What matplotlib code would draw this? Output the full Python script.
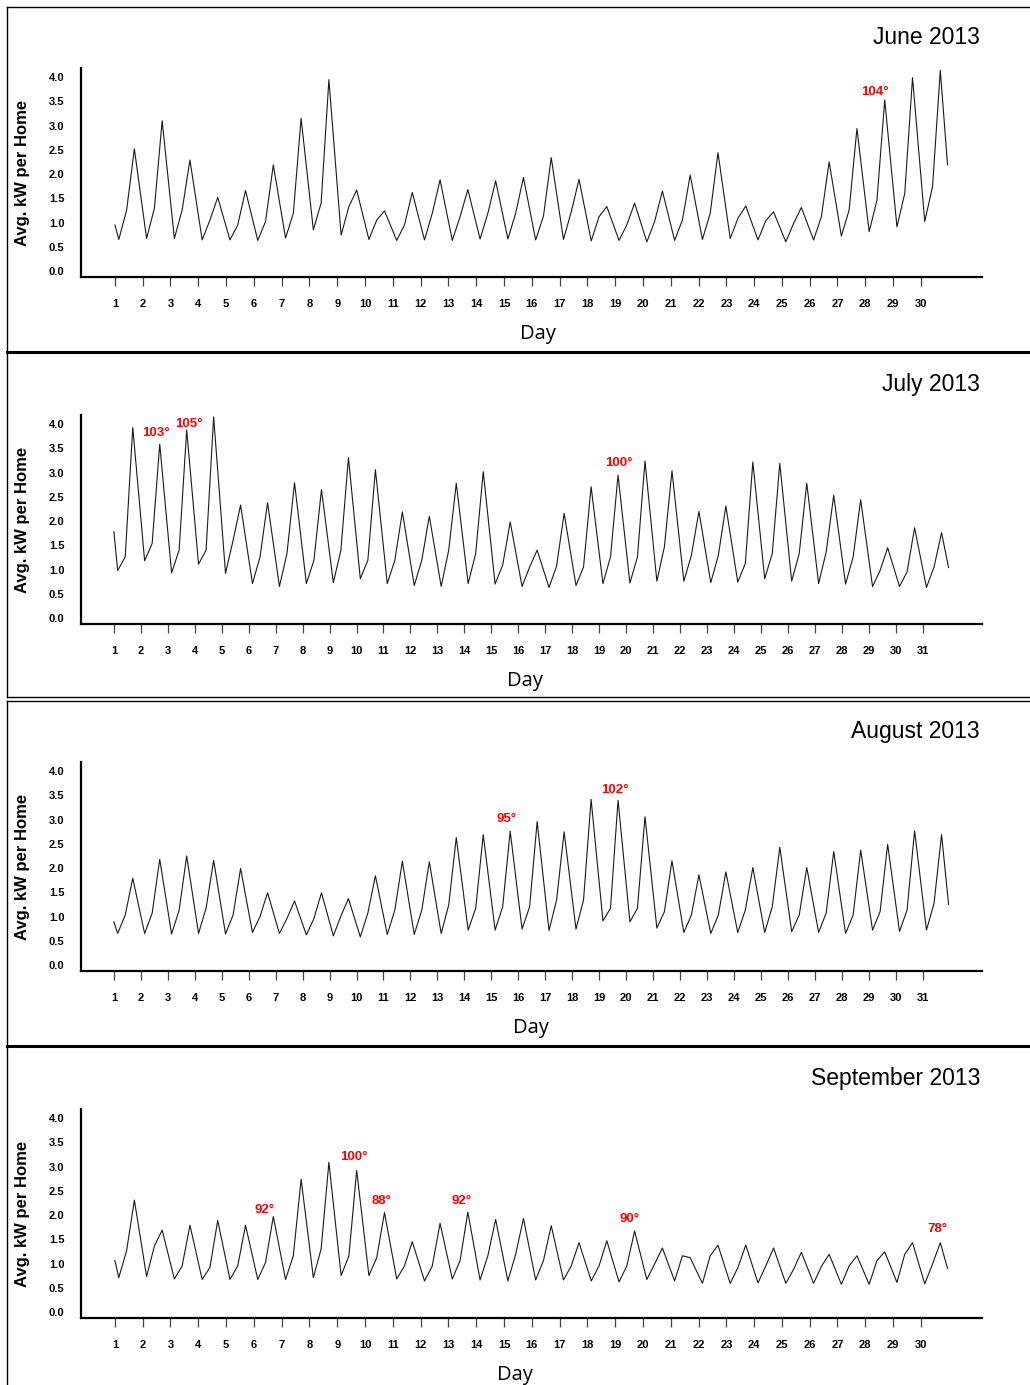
import matplotlib
matplotlib.use("Agg")
import matplotlib.pyplot as plt
from matplotlib.lines import Line2D
import numpy as np

# ---------------- data ----------------
months = ["June 2013", "July 2013", "August 2013", "September 2013"]
n_days = [30, 31, 31, 30]

june_trough = [0.65, 0.67, 0.67, 0.64, 0.64, 0.63, 0.68, 0.85, 0.74, 0.65,
               0.63, 0.64, 0.63, 0.66, 0.66, 0.64, 0.65, 0.62, 0.63, 0.60,
               0.63, 0.65, 0.67, 0.64, 0.60, 0.64, 0.72, 0.81, 0.91, 1.02]
june_shoulder = [1.25, 1.29, 1.26, 1.05, 0.95, 1.02, 1.19, 1.40, 1.33, 1.05,
                 0.95, 1.19, 1.12, 1.19, 1.19, 1.13, 1.22, 1.12, 0.95, 1.02,
                 1.05, 1.19, 1.09, 1.04, 0.98, 1.12, 1.26, 1.46, 1.60, 1.74]
june_peak = [2.52, 3.10, 2.29, 1.52, 1.66, 2.19, 3.15, 3.95, 1.67, 1.24,
             1.62, 1.88, 1.68, 1.86, 1.93, 2.34, 1.89, 1.33, 1.40, 1.65,
             1.98, 2.44, 1.34, 1.22, 1.31, 2.25, 2.94, 3.53, 3.99, 4.14]
june_start, june_end = 0.95, 2.19

july_trough = [0.98, 1.18, 0.93, 1.11, 0.92, 0.71, 0.65, 0.71, 0.73, 0.81,
               0.71, 0.67, 0.65, 0.71, 0.70, 0.65, 0.63, 0.67, 0.71, 0.72,
               0.76, 0.76, 0.73, 0.74, 0.81, 0.76, 0.71, 0.70, 0.65, 0.65, 0.63]
july_shoulder = [1.26, 1.54, 1.40, 1.40, 1.60, 1.26, 1.33, 1.19, 1.40, 1.19,
                 1.19, 1.19, 1.40, 1.33, 1.09, 1.05, 1.07, 1.05, 1.26, 1.26,
                 1.47, 1.29, 1.29, 1.12, 1.33, 1.33, 1.36, 1.26, 0.98, 0.95, 1.05]
july_peak = [3.93, 3.59, 3.88, 4.15, 2.33, 2.38, 2.79, 2.65, 3.31, 3.06,
             2.19, 2.10, 2.78, 3.02, 1.98, 1.40, 2.16, 2.71, 2.95, 3.24,
             3.04, 2.20, 2.31, 3.22, 3.19, 2.78, 2.53, 2.44, 1.45, 1.86, 1.76]
july_start, july_end = 1.78, 1.04

aug_trough = [0.65, 0.65, 0.64, 0.65, 0.64, 0.67, 0.65, 0.62, 0.60, 0.58,
              0.63, 0.63, 0.65, 0.72, 0.72, 0.74, 0.71, 0.74, 0.91, 0.89,
              0.76, 0.67, 0.65, 0.67, 0.67, 0.69, 0.67, 0.65, 0.72, 0.69, 0.72]
aug_shoulder = [1.03, 1.07, 1.13, 1.17, 1.03, 1.00, 0.96, 0.96, 1.01, 1.07,
                1.13, 1.13, 1.24, 1.17, 1.20, 1.20, 1.34, 1.34, 1.17, 1.17,
                1.10, 1.03, 1.03, 1.13, 1.20, 1.03, 1.07, 1.03, 1.10, 1.13, 1.27]
aug_peak = [1.79, 2.18, 2.25, 2.16, 1.99, 1.49, 1.32, 1.49, 1.37, 1.84,
            2.14, 2.13, 2.63, 2.69, 2.76, 2.96, 2.75, 3.42, 3.40, 3.06,
            2.15, 1.86, 1.92, 2.01, 2.43, 2.01, 2.34, 2.37, 2.49, 2.77, 2.69]
aug_start, aug_end = 0.89, 1.25

sep_trough = [0.71, 0.73, 0.68, 0.67, 0.67, 0.67, 0.67, 0.71, 0.75, 0.75,
              0.68, 0.64, 0.68, 0.66, 0.64, 0.66, 0.66, 0.64, 0.62, 0.67,
              0.64, 0.59, 0.59, 0.60, 0.59, 0.59, 0.57, 0.57, 0.61, 0.58]
sep_shoulder = [1.26, 1.36, 0.95, 0.92, 0.95, 1.02, 1.16, 1.30, 1.16, 1.12,
                0.95, 0.95, 1.06, 1.16, 1.19, 1.06, 0.95, 0.95, 0.95, 0.99,
                1.16, 1.16, 0.92, 0.95, 0.88, 0.94, 0.95, 1.06, 1.19, 0.99]
sep_peak = [2.31, 1.69, 1.79, 1.89, 1.79, 1.97, 2.74, 3.09, 2.92, 2.05,
            1.45, 1.83, 2.06, 1.91, 1.93, 1.78, 1.43, 1.47, 1.67, 1.32,
            1.12, 1.38, 1.38, 1.32, 1.23, 1.19, 1.16, 1.24, 1.43, 1.43]
sep_start, sep_end = 1.06, 0.90

# temperature annotations: (label, day position, kW level)
june_notes = [("104°", 28.35, 3.69)]
july_notes = [("103°", 2.55, 3.81), ("105°", 3.78, 4.00), ("100°", 19.73, 3.19)]
aug_notes = [("95°", 15.57, 3.01), ("102°", 19.60, 3.61)]
sep_notes = [("92°", 6.40, 2.10), ("100°", 9.61, 3.20), ("88°", 10.58, 2.30),
             ("92°", 13.46, 2.30), ("90°", 19.52, 1.91), ("78°", 30.60, 1.71)]

y_ticks = [0.0, 0.5, 1.0, 1.5, 2.0, 2.5, 3.0, 3.5, 4.0]

panels = [
    (june_trough, june_shoulder, june_peak, june_start, june_end, june_notes),
    (july_trough, july_shoulder, july_peak, july_start, july_end, july_notes),
    (aug_trough, aug_shoulder, aug_peak, aug_start, aug_end, aug_notes),
    (sep_trough, sep_shoulder, sep_peak, sep_start, sep_end, sep_notes),
]

# ---------------- layout ----------------
W, H = 1030, 1385
fig = plt.figure(figsize=(W / 100, H / 100), dpi=100)

# time-of-day positions of the knots (fraction of a day)
F_TROUGH, F_SHOULDER, F_PEAK, F_END = 0.14, 0.42, 0.70, 0.96

ax_left_px, ax_right_px = 81, 982
ax_w_px = ax_right_px - ax_left_px
ax_bottoms_px = [277, 624, 971, 1318]
ax_h_px = 209
day_label_x_px = [538, 525, 531, 515]

label_font = "Liberation Sans"

for i, (tr, sh, pk, st, en, notes) in enumerate(panels):
    n = n_days[i]
    b = 1 - ax_bottoms_px[i] / H
    ax = fig.add_axes([ax_left_px / W, b, ax_w_px / W, ax_h_px / H])

    xs = [1.0]
    ys = [st]
    for d in range(n):
        day = d + 1
        xs += [day + F_TROUGH, day + F_SHOULDER, day + F_PEAK]
        ys += [tr[d], sh[d], pk[d]]
    xs.append(n + F_END)
    ys.append(en)
    ax.plot(xs, ys, color="#1a1a1a", lw=0.8)

    for lab, xd, yv in notes:
        ax.text(xd, yv, lab, color="#ff0000", fontsize=9.5, fontweight="bold",
                family=label_font, ha="center", va="center")

    ax.set_xlim(-0.22, n + 2.2)
    ax.set_ylim(-0.125, 4.19)
    for s in ["top", "right"]:
        ax.spines[s].set_visible(False)
    for s in ["left", "bottom"]:
        ax.spines[s].set_linewidth(1.6)
        ax.spines[s].set_color("black")

    ax.set_xticks(range(1, n + 1))
    ax.set_xticklabels([str(k) for k in range(1, n + 1)])
    ax.set_yticks(y_ticks)
    ax.set_yticklabels([f"{v:.1f}" for v in y_ticks])
    ax.tick_params(axis="x", length=6.5, width=0.9, color="#444444", pad=9,
                   labelsize=8)
    ax.tick_params(axis="y", length=0, pad=12, labelsize=8)
    for t in ax.get_xticklabels() + ax.get_yticklabels():
        t.set_fontweight("bold")
        t.set_family(label_font)

    ax.set_ylabel("Avg. kW per Home", fontsize=12, fontweight="bold",
                  family=label_font)
    ax.yaxis.set_label_coords(-(ax_left_px - 30) / ax_w_px, 0.5)

    ax.text((980 - ax_left_px) / ax_w_px, 1 + 30 / ax_h_px,
            months[i], transform=ax.transAxes, ha="right", va="center",
            fontsize=16.5, family=label_font)
    ax.text((day_label_x_px[i] - ax_left_px) / ax_w_px,
            -57 / ax_h_px, "Day", transform=ax.transAxes, ha="center",
            va="center", fontsize=14.5, family="Open Sans")

# ---------------- frame lines ----------------
def hline(py, lw, x0=7, x1=W):
    fig.add_artist(Line2D([x0 / W, x1 / W], [1 - py / H, 1 - py / H],
                          transform=fig.transFigure, color="black", lw=lw))

def vline(px, py0, py1, lw):
    fig.add_artist(Line2D([px / W, px / W], [1 - py0 / H, 1 - py1 / H],
                          transform=fig.transFigure, color="black", lw=lw))

hline(6.5, 1.0)
hline(352, 2.2)
hline(696.5, 1.0)
hline(700.5, 1.0)
hline(1045.5, 2.2)
vline(7.3, 6.5, 696.5, 1.0)
vline(7.3, 700.5, H, 1.0)

fig.savefig("out.png", dpi=100)
